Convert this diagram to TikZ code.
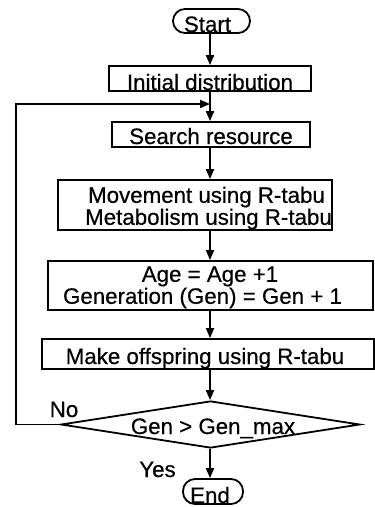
\documentclass[tikz,border=0pt]{standalone}
\usepackage{fontspec}
\setmainfont{Liberation Sans}
\newfontfamily\chartfont{Liberation Sans}[UprightFeatures={FakeBold=0.5}]
\usetikzlibrary{arrows.meta,shapes.geometric}
\begin{document}
\begin{tikzpicture}[x=1pt,y=-1pt]
\tikzset{
  frame/.style={draw, line width=1.8pt, inner sep=0pt},
  term/.style={frame, rounded corners=12pt},
  txt/.style={inner sep=0pt, anchor=base, font=\chartfont\fontsize{22.3}{20}\selectfont},
  flow/.style={line width=1.8pt, -{Triangle[length=10pt,width=8pt]}},
}
\useasboundingbox (0,0) rectangle (375,507);

% main column of the flow chart
\coordinate (spine) at (210,0);

\node[term, minimum width=77pt, minimum height=24pt] (start) at (211.5,21) {};
\node[txt] (tstart) at (207.5,32) {Start};

\node[frame, minimum width=202pt, minimum height=25pt] (init) at (210,78.5) {};
\node[txt] (tinit) at (210,90) {Initial distribution};

\node[frame, minimum width=198pt, minimum height=25pt] (search) at (211,134.5) {};
\node[txt] (tsearch) at (211,144) {Search resource};

\node[frame, minimum width=274pt, minimum height=50pt] (move) at (195,205) {};
\node[txt] (tmove) at (206.5,202.8) {Movement using R-tabu};
\node[txt] (tmeta) at (208.5,224.8) {Metabolism using R-tabu};

\node[frame, minimum width=325pt, minimum height=49pt] (age) at (210.5,285.5) {};
\node[txt] (tage) at (210,281.8) {Age = Age +1};
\node[txt] (tgen) at (202.5,303.8) {Generation (Gen) = Gen + 1};

\node[frame, minimum width=332pt, minimum height=30pt] (off) at (208,354) {};
\node[txt] (toff) at (205,364) {Make offspring using R-tabu};

\node[frame, diamond, minimum width=299pt, minimum height=47pt] (dec) at (210.5,424.5) {};
\node[txt] (tdec) at (213,434) {Gen > Gen\_max};

\node[term, minimum width=60pt, minimum height=25pt] (end) at (213,491.5) {};
\node[txt] (tend) at (210,503) {End};

% branch labels
\node[txt] (no) at (64,417) {No};
\node[txt] (yes) at (157.5,477) {Yes};

% connectors
\draw[flow] (start.south -| spine) -- (init.north -| spine);
\draw[flow] (init.south -| spine) -- (search.north -| spine);
\draw[flow] (search.south -| spine) -- (move.north -| spine);
\draw[flow] (move.south -| spine) -- (age.north -| spine);
\draw[flow] (age.south -| spine) -- (off.north -| spine);
\draw[flow] (off.south -| spine) -- (dec.north -| spine);
\draw[flow] (dec.south -| spine) -- (end.north -| spine);

% loop back for the "No" branch
\coordinate (bend) at (16,104);
\draw[flow] (dec.west) -- (dec.west -| bend) -- (bend) -- (bend -| spine);
\end{tikzpicture}
\end{document}
